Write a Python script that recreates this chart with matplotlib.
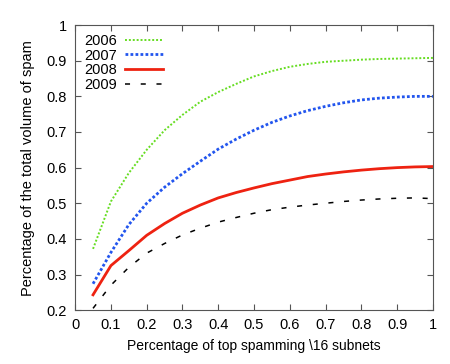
import matplotlib
matplotlib.use("Agg")
import matplotlib.pyplot as plt
import numpy as np

plt.rcParams['font.family'] = ['Liberation Sans', 'DejaVu Sans']

# top-spamming /16 subnet share (x) vs share of spam volume (y)
frac = [0.05, 0.1, 0.15, 0.2, 0.25, 0.3, 0.35, 0.4, 0.45, 0.5,
        0.55, 0.6, 0.65, 0.7, 0.75, 0.8, 0.85, 0.9, 0.95, 1.0]
y2006 = [0.372, 0.505, 0.585, 0.65, 0.705, 0.748, 0.785, 0.812, 0.835, 0.856,
         0.871, 0.883, 0.891, 0.897, 0.90, 0.903, 0.905, 0.906, 0.907, 0.908]
y2007 = [0.274, 0.362, 0.44, 0.50, 0.545, 0.583, 0.618, 0.652, 0.68, 0.705,
         0.727, 0.745, 0.76, 0.772, 0.782, 0.79, 0.795, 0.798, 0.80, 0.80]
y2008 = [0.243, 0.325, 0.367, 0.41, 0.443, 0.472, 0.495, 0.515, 0.53, 0.543,
         0.555, 0.565, 0.575, 0.582, 0.588, 0.593, 0.597, 0.60, 0.602, 0.603]
y2009 = [0.205, 0.27, 0.32, 0.36, 0.387, 0.411, 0.43, 0.447, 0.46, 0.472,
         0.482, 0.489, 0.495, 0.50, 0.505, 0.509, 0.512, 0.514, 0.515, 0.513]

fig = plt.figure(figsize=(4.5, 3.64), dpi=100)
ax = fig.add_axes([0.167, 0.148, 0.795, 0.783])

ax.plot(frac, y2006, color='#66dd22', lw=1.4, linestyle=(0, (1, 1)), label='2006')
ax.plot(frac, y2007, color='#2255ee', lw=2.0, linestyle=(0, (1, 0.8)), label='2007')
ax.plot(frac, y2008, color='#ee2211', lw=2.0, label='2008')
ax.plot(frac, y2009, color='black', lw=1.1, linestyle=(0, (3.3, 7)), label='2009')

ax.set_xlim(0, 1)
ax.set_ylim(0.2, 1)
ax.set_xticks(np.arange(0, 1.01, 0.1))
ax.set_yticks(np.arange(0.2, 1.01, 0.1))
ax.set_xticklabels(['0', '0.1', '0.2', '0.3', '0.4', '0.5', '0.6', '0.7', '0.8', '0.9', '1'])
ax.set_yticklabels(['0.2', '0.3', '0.4', '0.5', '0.6', '0.7', '0.8', '0.9', '1'])
ax.tick_params(direction='in', top=True, right=True, length=4, labelsize=10.5,
               color='#555555', pad=6)
for s in ax.spines.values():
    s.set_color('#555555')

ax.set_xlabel('Percentage of top spamming \\16 subnets', fontsize=10, labelpad=5)
ax.set_ylabel('Percentage of the total volume of spam', fontsize=10.5, labelpad=8)

leg = ax.legend(loc='upper left', frameon=False, fontsize=10.5, handlelength=2.6,
                labelspacing=0.05, borderaxespad=0.2, handletextpad=0.6,
                markerfirst=False)

fig.savefig('out.png', dpi=100)
